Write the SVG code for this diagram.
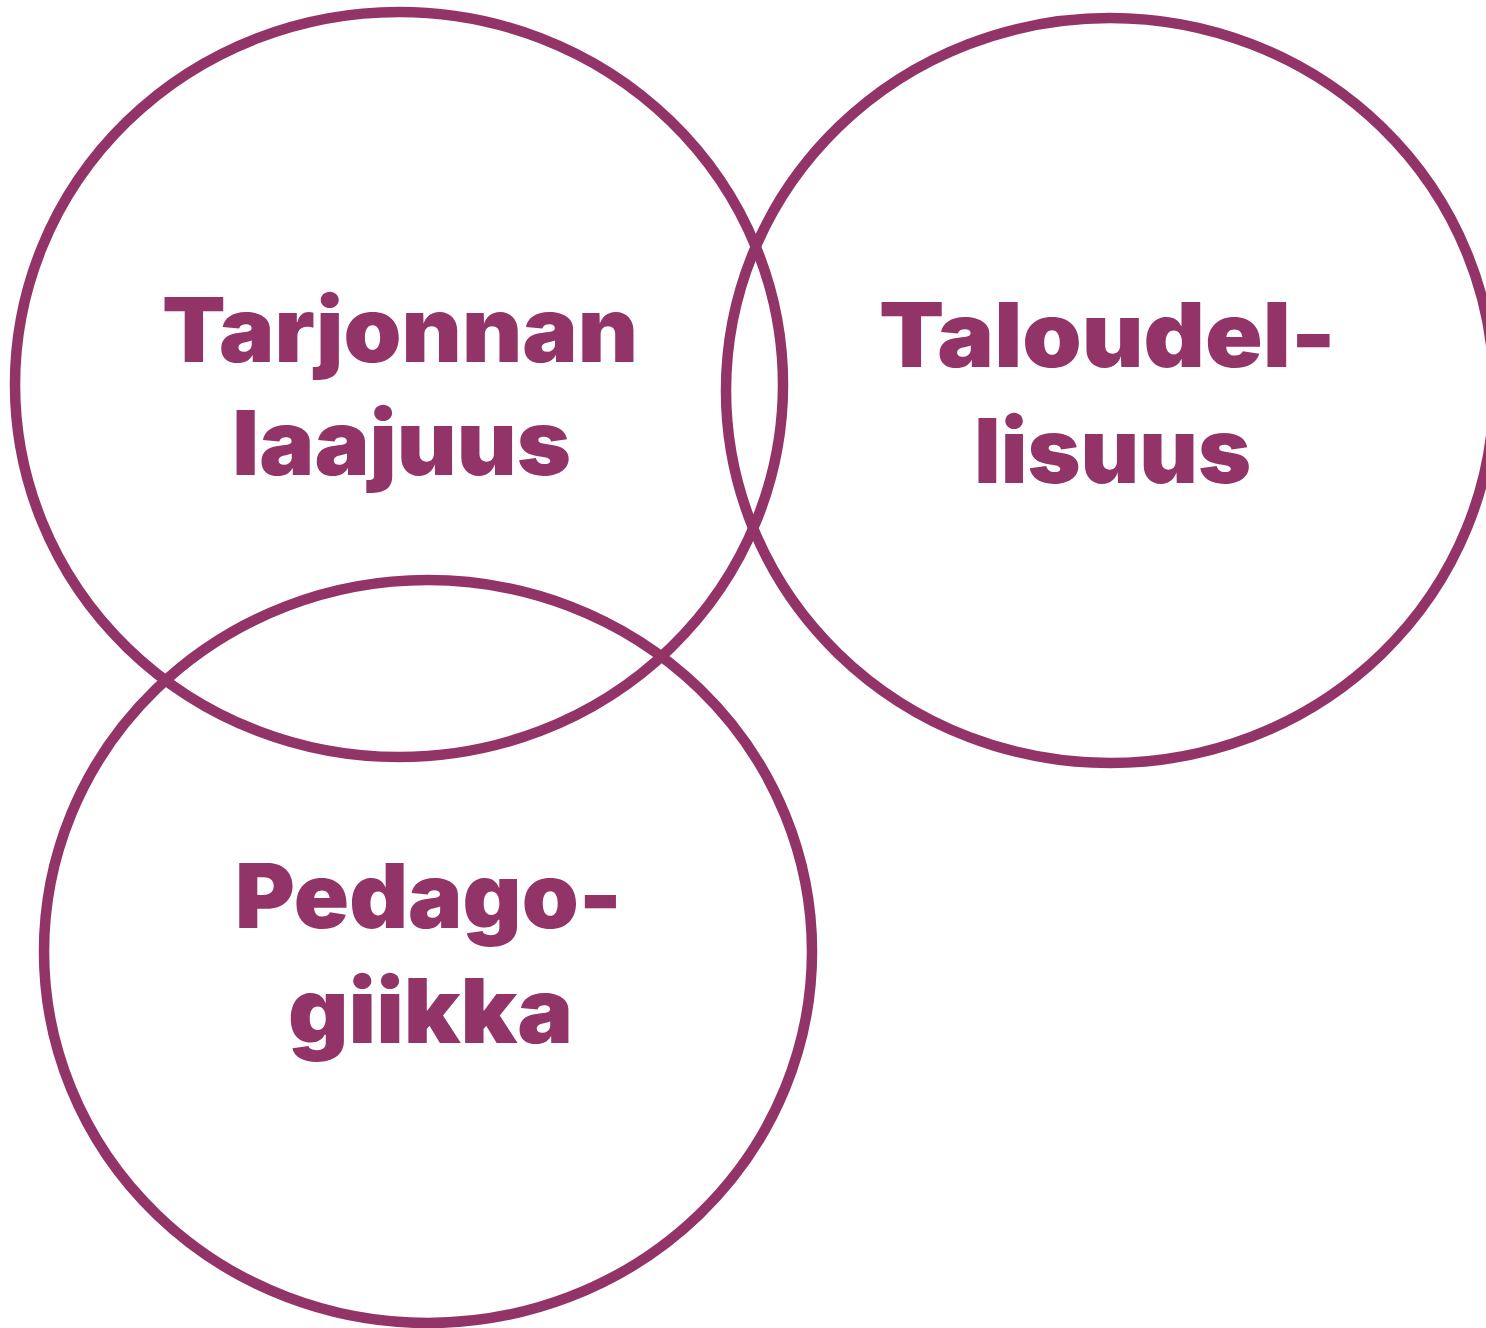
<svg xmlns="http://www.w3.org/2000/svg" width="1486" height="1328" viewBox="0 0 1486 1328">
<style>
.ring{fill:none;stroke:#933468;stroke-width:10.5}
.lbl{font-family:Inter,"Liberation Sans",sans-serif;font-weight:900;font-size:90px;fill:#933468;text-anchor:middle}
</style>
<rect width="1486" height="1328" fill="#ffffff"/>
<g id="tarjonnan">
<ellipse class="ring" cx="399" cy="384.5" rx="384" ry="372.5"/>
<text class="lbl" x="400" y="362" textLength="476" lengthAdjust="spacingAndGlyphs">Tarjonnan</text>
<text class="lbl" x="401.5" y="475" textLength="339" lengthAdjust="spacingAndGlyphs">laajuus</text>
</g>
<g id="taloudellisuus">
<ellipse class="ring" cx="1110" cy="390.5" rx="384" ry="372.5"/>
<text class="lbl" x="1107.5" y="367" textLength="457" lengthAdjust="spacingAndGlyphs">Taloudel-</text>
<text class="lbl" x="1112.5" y="483" textLength="277" lengthAdjust="spacingAndGlyphs">lisuus</text>
</g>
<g id="pedagogiikka">
<ellipse class="ring" cx="428" cy="951.5" rx="384" ry="371.5"/>
<text class="lbl" x="428.5" y="928" textLength="387" lengthAdjust="spacingAndGlyphs">Pedago-</text>
<text class="lbl" x="430.5" y="1043" textLength="285" lengthAdjust="spacingAndGlyphs">giikka</text>
</g>
<g id="connectors"/>
</svg>
